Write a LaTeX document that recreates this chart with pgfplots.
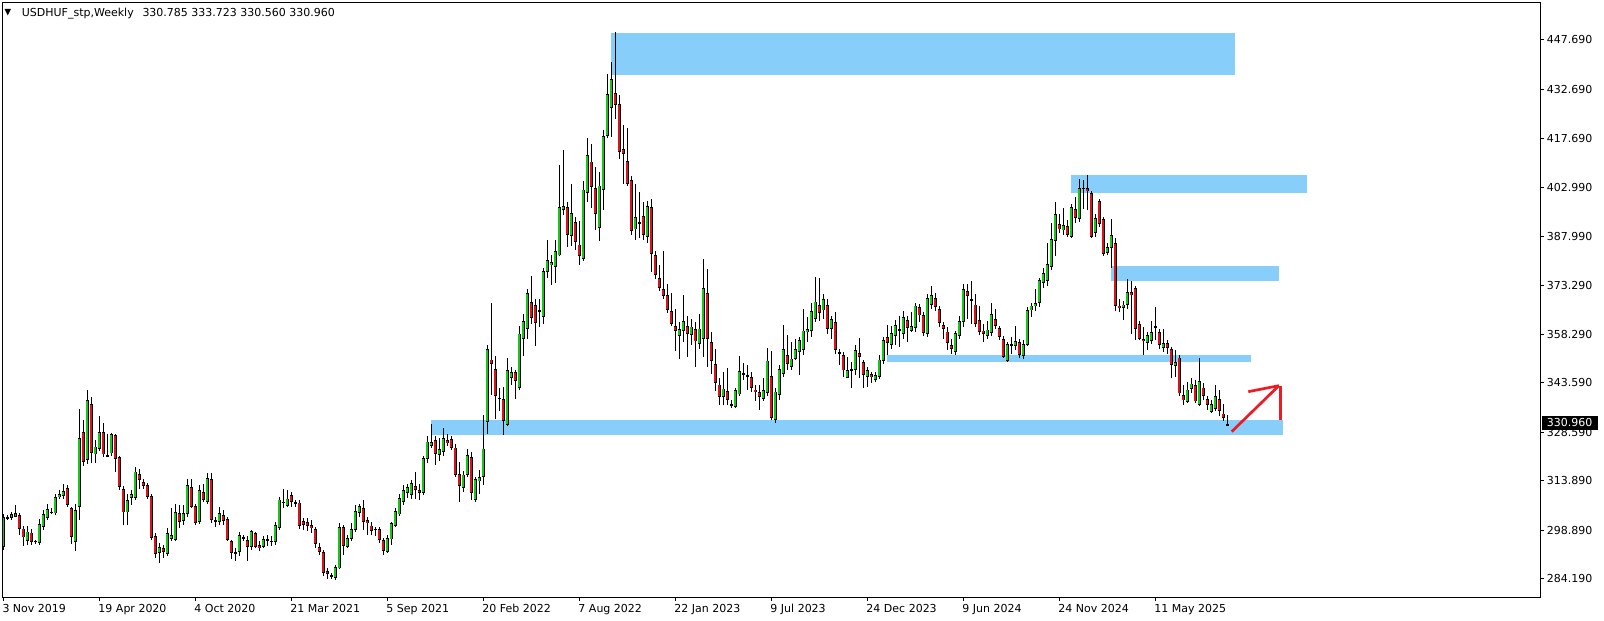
\documentclass[border=0pt]{standalone}
\usepackage{fontspec}
\setmainfont{DejaVu Sans}
\usepackage{pgfplots}
\usepackage{pgfplotstable}
\pgfplotsset{compat=1.18}
\definecolor{zone}{RGB}{135,206,250}
\definecolor{bull}{RGB}{20,200,20}
\definecolor{bear}{RGB}{215,20,25}
\definecolor{arrowred}{RGB}{237,28,36}
\pgfplotstableread{
i o h l c
0 293.7 303.8 293.0 303.0
1 302.8 303.4 302.0 302.6
2 302.5 304.5 302.0 303.7
3 303.0 306.5 302.8 304.0
4 303.4 304.2 297.6 299.3
5 299.4 300.1 294.0 296.7
6 295.7 300.1 294.5 298.5
7 298.2 299.2 294.5 295.4
8 295.6 296.0 294.6 295.5
9 295.1 302.2 294.5 300.8
10 300.0 305.0 299.0 303.7
11 302.7 306.8 302.0 305.2
12 304.2 305.5 303.8 304.4
13 304.0 309.8 303.5 309.0
14 309.0 311.0 308.3 309.8
15 309.4 313.0 308.5 310.8
16 311.7 312.5 306.0 306.6
17 305.6 306.0 294.8 296.9
18 295.4 307.0 292.6 304.9
19 306.0 335.6 302.0 326.8
20 328.6 332.3 318.5 319.6
21 320.1 341.4 319.0 338.3
22 337.1 339.3 319.3 322.4
23 321.9 326.2 319.3 324.3
24 323.5 333.6 322.8 328.6
25 328.6 331.3 321.0 321.9
26 321.6 328.0 321.0 321.5
27 322.2 328.3 321.5 328.0
28 327.7 328.2 316.5 320.4
29 321.1 321.5 311.0 312.1
30 311.4 312.2 300.5 304.3
31 304.3 310.0 300.5 308.0
32 308.6 311.0 306.5 309.9
33 308.7 318.0 308.0 316.7
34 315.9 317.5 311.5 314.1
35 313.5 314.5 311.5 312.4
36 312.6 313.3 308.5 309.0
37 309.3 310.0 296.0 296.6
38 297.2 298.0 290.4 291.8
39 292.1 295.0 289.0 293.7
40 293.5 294.5 290.5 292.4
41 291.8 299.5 291.0 298.0
42 296.3 305.5 295.5 297.4
43 296.0 307.0 295.5 304.4
44 304.0 306.5 299.5 301.5
45 301.8 306.5 300.5 304.0
46 303.8 314.5 303.0 312.5
47 311.9 314.5 305.5 306.0
48 306.1 307.0 300.5 301.2
49 301.4 312.5 300.8 311.1
50 310.5 313.0 307.5 308.0
51 307.5 316.3 307.0 314.7
52 314.4 316.3 301.0 302.0
53 301.9 303.0 300.0 301.5
54 301.5 306.0 300.5 304.0
55 303.5 305.0 300.5 301.8
56 302.3 303.0 295.5 296.0
57 295.6 296.0 290.3 292.1
58 292.2 293.5 289.5 292.0
59 292.4 298.5 291.0 297.4
60 296.7 297.5 295.5 296.5
61 295.9 297.0 289.5 293.9
62 293.9 299.0 293.0 298.6
63 298.0 298.5 293.5 293.9
64 294.4 295.5 292.5 293.4
65 293.9 297.0 293.5 296.1
66 296.1 297.5 294.0 296.0
67 295.7 297.0 294.0 295.3
68 295.4 301.5 294.5 300.4
69 299.6 309.0 299.0 308.2
70 307.4 311.3 305.5 307.3
71 306.3 311.0 305.8 308.5
72 309.7 310.5 306.0 307.5
73 307.3 308.2 306.0 307.1
74 307.3 308.2 299.3 300.3
75 301.6 302.5 299.0 300.5
76 301.3 302.5 298.8 300.3
77 300.5 302.0 298.0 299.5
78 299.3 300.0 293.5 294.6
79 293.9 295.0 291.5 292.4
80 292.3 293.0 285.0 286.0
81 286.5 287.5 284.0 285.7
82 285.0 286.0 284.0 284.9
83 284.3 288.3 283.9 287.6
84 287.3 301.0 287.0 299.8
85 299.8 300.5 291.4 294.2
86 293.9 297.5 293.5 296.4
87 296.2 301.0 295.5 299.2
88 298.9 306.7 298.5 304.7
89 304.2 307.0 303.0 306.2
90 305.5 308.0 299.0 301.5
91 302.0 303.0 297.5 301.0
92 300.3 301.5 297.5 298.8
93 299.2 300.0 297.0 299.1
94 299.2 300.0 295.0 296.0
95 295.9 296.5 291.5 292.7
96 292.4 297.5 292.0 296.4
97 296.1 301.5 294.5 301.0
98 300.3 305.5 300.0 304.7
99 303.7 309.8 303.3 308.6
100 307.5 312.5 306.5 311.1
101 310.3 313.0 308.6 311.9
102 309.6 314.2 308.3 313.1
103 312.3 316.5 308.3 311.1
104 311.1 313.0 308.0 310.3
105 310.1 321.5 309.7 320.7
106 320.4 327.5 319.2 325.8
107 324.6 331.0 324.0 325.6
108 326.4 327.5 318.8 322.1
109 321.8 327.0 320.0 323.4
110 322.7 330.0 321.5 327.0
111 326.2 328.0 324.5 325.4
112 326.7 327.5 323.3 323.9
113 324.0 325.0 315.2 315.7
114 315.9 319.5 307.6 312.4
115 311.8 317.0 310.5 315.8
116 315.6 323.5 315.0 321.6
117 321.0 322.5 308.0 310.1
118 308.2 315.0 307.6 314.3
119 313.7 317.2 310.0 315.1
120 315.1 334.0 312.5 323.7
121 331.8 355.0 328.0 354.0
122 350.7 367.8 340.0 349.3
123 347.9 351.8 332.8 339.7
124 339.0 342.0 335.0 338.8
125 338.6 342.5 327.9 332.1
126 330.9 351.3 330.5 347.4
127 345.2 348.5 343.0 346.9
128 346.9 347.5 338.8 344.2
129 342.2 361.0 341.5 358.6
130 357.0 364.6 351.9 362.3
131 360.1 372.0 357.0 371.0
132 368.2 376.0 361.5 363.4
133 367.3 369.0 354.8 361.9
134 365.5 369.0 360.5 365.3
135 363.6 378.5 361.5 377.5
136 377.2 387.0 375.5 380.9
137 379.4 382.5 373.2 380.2
138 378.8 387.0 374.0 383.7
139 382.3 409.8 382.0 396.9
140 396.2 414.4 394.5 397.2
141 396.9 398.4 385.0 388.6
142 388.2 404.0 385.2 395.2
143 392.4 393.9 384.1 386.3
144 385.6 392.7 379.5 382.1
145 381.3 405.0 380.5 402.3
146 401.3 418.0 398.6 412.8
147 410.8 416.0 396.7 403.0
148 402.8 409.0 390.0 394.9
149 390.7 407.5 386.6 403.5
150 402.2 420.5 396.0 418.6
151 418.6 437.4 418.0 431.3
152 427.0 441.0 418.3 435.8
153 431.6 450.2 423.8 428.0
154 428.2 431.0 411.7 413.6
155 414.6 422.0 404.1 413.1
156 411.0 421.0 403.3 403.9
157 405.2 406.5 388.5 389.7
158 390.2 404.0 387.0 393.9
159 392.3 401.6 387.5 392.1
160 394.2 398.5 387.0 388.6
161 388.0 398.8 386.0 397.3
162 396.9 399.4 377.4 382.8
163 382.5 383.5 375.2 376.4
164 375.5 379.4 371.5 372.5
165 372.2 383.5 369.0 370.0
166 370.4 373.5 364.8 365.8
167 365.3 371.0 361.0 361.6
168 360.8 366.0 353.2 359.4
169 357.8 362.0 351.0 359.9
170 359.5 370.2 356.0 362.5
171 360.9 364.0 351.5 358.6
172 358.2 363.0 355.0 360.7
173 359.9 362.0 348.5 356.2
174 355.5 364.5 354.0 360.1
175 357.0 381.3 351.5 372.5
176 371.0 378.3 348.5 357.0
177 356.1 359.2 346.3 350.3
178 349.4 353.8 341.3 343.7
179 343.1 345.0 337.0 339.4
180 339.4 347.0 337.0 341.9
181 341.1 348.0 337.0 338.5
182 337.1 338.5 336.0 337.0
183 336.3 342.0 336.0 341.4
184 340.1 351.7 339.5 347.3
185 346.4 349.8 344.4 346.3
186 345.9 349.0 341.5 345.4
187 345.5 347.0 341.0 342.1
188 341.6 343.0 338.0 340.9
189 340.7 343.0 335.5 339.4
190 338.8 345.0 338.0 341.5
191 340.7 354.2 339.5 350.4
192 345.8 353.3 332.3 333.1
193 332.5 342.0 331.3 341.0
194 340.0 349.0 338.5 347.9
195 346.4 361.3 345.5 354.0
196 352.0 358.0 347.5 349.4
197 348.4 356.0 347.5 351.0
198 351.0 357.0 350.5 354.0
199 353.0 357.5 345.9 356.7
200 353.5 366.0 352.0 359.5
201 359.0 363.5 356.0 360.0
202 359.3 368.0 357.5 365.5
203 363.1 375.9 362.0 368.3
204 367.3 375.5 362.5 364.9
205 365.6 370.5 363.0 369.1
206 367.3 369.0 358.5 360.1
207 359.9 364.0 357.0 363.1
208 362.1 365.0 352.5 353.7
209 352.8 354.0 349.0 352.7
210 352.2 353.0 345.5 347.4
211 345.2 351.5 345.0 347.6
212 347.6 350.0 342.2 347.5
213 347.6 355.0 346.0 353.7
214 352.8 357.2 345.0 351.4
215 349.9 350.5 342.0 345.9
216 345.4 348.5 342.5 347.4
217 346.2 347.0 343.5 345.4
218 344.6 347.0 344.0 345.9
219 345.4 352.0 344.8 350.7
220 350.2 357.5 349.5 356.5
221 357.4 361.3 352.0 355.7
222 355.2 361.0 353.8 358.8
223 358.0 362.6 355.0 361.1
224 359.7 364.0 354.5 359.6
225 358.5 365.5 357.0 363.5
226 362.8 364.0 356.0 360.3
227 359.3 365.0 359.0 360.9
228 360.3 368.0 359.0 367.1
229 366.6 367.5 362.0 364.1
230 364.3 365.0 358.0 358.8
231 358.6 370.5 357.5 369.4
232 367.3 373.0 366.0 370.2
233 369.4 371.0 365.5 366.8
234 366.1 367.0 360.5 361.9
235 361.3 362.0 357.0 359.9
236 359.2 360.5 353.5 355.8
237 355.2 357.0 352.5 353.8
238 353.0 359.5 352.0 358.8
239 358.0 364.0 357.0 362.3
240 362.1 373.7 360.6 372.2
241 371.4 373.5 363.0 370.0
242 368.9 374.5 361.5 368.8
243 367.4 370.5 360.5 361.6
244 362.6 367.0 358.0 359.1
245 359.5 361.5 356.0 358.5
246 357.8 362.5 357.0 359.8
247 358.7 368.0 358.0 364.6
248 362.9 366.0 360.0 360.9
249 360.3 361.0 356.5 357.5
250 357.0 358.0 351.2 351.5
251 350.3 356.0 350.0 355.5
252 355.2 357.5 352.5 355.1
253 354.8 360.8 353.5 356.3
254 356.0 357.0 351.2 352.0
255 351.7 356.5 351.0 355.3
256 355.2 366.5 354.8 365.8
257 365.6 368.0 363.5 367.1
258 366.9 372.0 365.5 367.9
259 367.8 375.5 366.5 374.7
260 373.9 378.5 372.5 376.9
261 374.5 386.0 373.0 379.6
262 378.7 392.0 378.0 387.3
263 386.6 398.4 382.0 394.9
264 391.9 395.0 389.0 390.2
265 389.9 396.8 388.5 391.6
266 391.1 393.0 388.0 388.6
267 388.0 398.0 387.7 397.1
268 396.4 400.0 392.0 393.7
269 393.3 405.5 392.5 402.8
270 402.7 405.2 396.5 402.6
271 402.8 406.7 396.0 401.8
272 401.3 402.0 387.5 387.8
273 389.2 395.0 388.0 393.7
274 398.9 399.5 391.0 391.9
275 393.4 394.0 382.0 382.8
276 383.1 386.0 382.5 384.8
277 384.6 393.5 378.5 388.6
278 386.1 387.5 365.5 367.1
279 367.1 369.0 365.0 366.4
280 366.3 368.5 362.8 367.4
281 367.4 375.0 366.0 371.1
282 371.1 374.5 358.5 370.2
283 372.5 373.0 356.5 359.9
284 361.4 362.5 356.5 357.0
285 357.0 360.5 352.2 356.3
286 355.8 359.0 353.5 358.0
287 356.4 362.5 355.5 359.0
288 360.6 366.7 356.5 360.5
289 359.0 360.0 354.0 355.2
290 354.3 360.0 353.0 355.8
291 355.7 356.5 352.5 354.3
292 353.8 354.5 345.0 349.0
293 348.7 353.5 345.5 350.0
294 351.3 352.0 339.5 340.4
295 339.9 343.0 337.0 338.3
296 337.9 344.0 337.5 341.6
297 341.9 345.0 340.5 343.4
298 342.9 344.5 337.5 338.0
299 336.8 351.3 336.5 344.1
300 342.2 343.5 338.5 339.6
301 338.8 339.5 335.5 337.0
302 334.8 338.5 334.5 337.3
303 335.8 343.0 335.0 339.6
304 338.8 341.4 333.5 335.1
305 334.3 337.3 332.0 333.1
306 330.785 333.723 330.560 330.960
}\candles
\begin{document}
\begin{tikzpicture}[font=\fontsize{11}{13}\selectfont]
\fill[white] (0,0) rectangle (1604pt,621pt);
\begin{axis}[
  at={(2.7pt,23.3pt)}, anchor=south west,
  scale only axis, width=1537.6pt, height=595pt,
  xmin=-0.15, xmax=384.25, ymin=278.42, ymax=459.01,
  axis line style={line width=1pt, black},
  xtick={0,24,...,288},
  xticklabels={3 Nov 2019,19 Apr 2020,4 Oct 2020,21 Mar 2021,5 Sep 2021,20 Feb 2022,7 Aug 2022,22 Jan 2023,9 Jul 2023,24 Dec 2023,9 Jun 2024,24 Nov 2024,11 May 2025},
  ytick={284.19,298.89,313.89,328.59,343.59,358.29,373.29,387.99,402.99,417.69,432.69,447.69},
  yticklabels={284.190,298.890,313.890,328.590,343.590,358.290,373.290,387.990,402.990,417.690,432.690,447.690},
  xtick pos=lower, ytick pos=upper, yticklabel pos=upper, xticklabel pos=lower,
  tick align=outside, major tick length=3.5pt,
  tick style={line width=1pt, black},
  tick label style={font=\fontsize{11}{13}\selectfont, inner sep=0pt},
  xticklabel style={anchor=base west, xshift=-1pt, yshift=-11.1pt},
  yticklabel style={anchor=west, xshift=2.9pt},
  unbounded coords=discard,
  every axis plot/.append style={draw=none, mark=none},
]
% zones
\fill[zone] (axis cs:151.9,437.0) rectangle (axis cs:307.9,449.8);
\fill[zone] (axis cs:266.9,401.25) rectangle (axis cs:325.9,406.7);
\fill[zone] (axis cs:276.9,374.55) rectangle (axis cs:318.9,379.1);
\fill[zone] (axis cs:221.0,350.05) rectangle (axis cs:311.9,352.1);
\fill[zone] (axis cs:106.9,327.8) rectangle (axis cs:319.9,332.36);
% wicks
\addplot[draw=none, mark=none, error bars/.cd, y dir=both, y explicit, error mark=none,
  error bar style={draw=black, line width=1pt}]
  table[x=i, y expr={(\thisrow{h}+\thisrow{l})/2}, y error expr={(\thisrow{h}-\thisrow{l})/2}] {\candles};
% body outlines
\addplot[draw=none, mark=none, error bars/.cd, y dir=both, y explicit, error mark=none,
  error bar style={draw=black, line width=3.4pt}]
  table[x=i, y expr={(\thisrow{o}+\thisrow{c})/2}, y error expr={max(abs(\thisrow{c}-\thisrow{o})/2,0.22)}] {\candles};
% bull bodies
\addplot[draw=none, mark=none, error bars/.cd, y dir=both, y explicit, error mark=none,
  error bar style={draw=bull, line width=1.6pt}]
  table[x=i, y expr={\thisrow{c}>\thisrow{o} ? (\thisrow{o}+\thisrow{c})/2 : nan}, y error expr={max(abs(\thisrow{c}-\thisrow{o})/2-0.27,0)}] {\candles};
% bear bodies
\addplot[draw=none, mark=none, error bars/.cd, y dir=both, y explicit, error mark=none,
  error bar style={draw=bear, line width=1.6pt}]
  table[x=i, y expr={\thisrow{c}<\thisrow{o} ? (\thisrow{o}+\thisrow{c})/2 : nan}, y error expr={max(abs(\thisrow{c}-\thisrow{o})/2-0.27,0)}] {\candles};
% red arrow annotation
\draw[arrowred, line width=2.7pt] (axis cs:307.1,328.81) -- (axis cs:318.9,342.77);
\draw[arrowred, line width=2.7pt] (axis cs:311.25,340.95) -- (axis cs:318.9,342.77);
\draw[arrowred, line width=2.7pt] (axis cs:319.25,342.77) -- (axis cs:319.25,332.36);
\coordinate (cp) at (axis cs:384.25,330.96);
\end{axis}
% current price box
\fill[black] ([xshift=1.7pt,yshift=-5.4pt]cp) rectangle ([xshift=57.7pt,yshift=8.6pt]cp);
\node[anchor=west, inner sep=0pt, text=white] at ([xshift=6.4pt,yshift=1.6pt]cp) {330.960};
% header
\fill[black] (4.5pt,612pt) -- (11pt,612pt) -- (7.75pt,605.5pt) -- cycle;
\node[anchor=base west, inner sep=0pt] at (21.7pt,604.3pt) {USDHUF\_stp,Weekly};
\node[anchor=base west, inner sep=0pt] at (142.3pt,604.3pt) {330.785 333.723 330.560 330.960};
\pgfresetboundingbox
\useasboundingbox (0,0) rectangle (1604pt,621pt);
\end{tikzpicture}
\end{document}
